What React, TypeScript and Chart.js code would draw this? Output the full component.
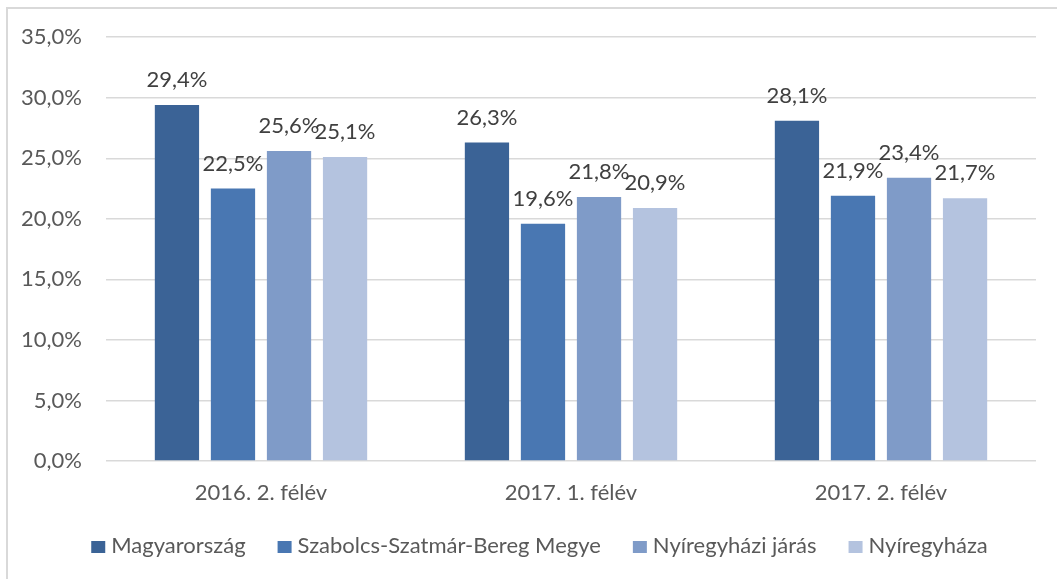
import React, { useEffect, useRef } from "react";
import { Chart, registerables } from "chart.js";

Chart.register(...registerables);

const categories = ["2016. 2. félév", "2017. 1. félév", "2017. 2. félév"];
const seriesNames = ["Magyarország", "Szabolcs-Szatmár-Bereg Megye", "Nyíregyházi járás", "Nyíregyháza"];
const magyarorszag = [29.4, 26.3, 28.1];
const szabolcs = [22.5, 19.6, 21.9];
const jaras = [25.6, 21.8, 23.4];
const nyiregyhaza = [25.1, 20.9, 21.7];
const seriesColors = ["#3B6396", "#4977B2", "#7F9BC8", "#B4C3DF"];
const yTicks = [0, 5, 10, 15, 20, 25, 30, 35];

const FONT = "Lato, 'Open Sans', sans-serif";
const FS = 22;

const fmt = (v: number) => v.toFixed(1).replace(".", ",") + "%";

const labelPlugin = {
  id: "barLabels",
  afterDatasetsDraw(chart: any) {
    const ctx = chart.ctx;
    ctx.save();
    ctx.font = `${FS}px ${FONT}`;
    ctx.fillStyle = "#404040";
    ctx.textAlign = "center";
    ctx.textBaseline = "alphabetic";
    chart.data.datasets.forEach((ds: any, i: number) => {
      const meta = chart.getDatasetMeta(i);
      meta.data.forEach((el: any, j: number) => {
        ctx.fillText(fmt(ds.data[j]), el.x, el.y - 18);
      });
    });
    ctx.restore();
  },
};

const legendPlugin = {
  id: "customLegend",
  afterDraw(chart: any) {
    const ctx = chart.ctx;
    ctx.save();
    ctx.font = `${FS}px ${FONT}`;
    ctx.textBaseline = "alphabetic";
    const boxW = 14;
    const boxH = 12;
    const gapBoxText = 6;
    const gapItems = 32;
    const items = chart.data.datasets.map((ds: any) => ({
      label: ds.label,
      color: ds.backgroundColor,
      w: boxW + gapBoxText + ctx.measureText(ds.label).width,
    }));
    const total = items.reduce((s: number, it: any) => s + it.w, 0) + gapItems * (items.length - 1);
    let x = (chart.width - total) / 2 + 11;
    const baseline = 553;
    items.forEach((it: any) => {
      ctx.fillStyle = it.color;
      ctx.fillRect(x, baseline - 12, boxW, boxH);
      ctx.fillStyle = "#595959";
      ctx.textAlign = "left";
      ctx.fillText(it.label, x + boxW + gapBoxText, baseline);
      x += it.w + gapItems;
    });
    ctx.restore();
  },
};

export default function App() {
  const ref = useRef<HTMLCanvasElement>(null);
  useEffect(() => {
    if (!ref.current) return;
    const seriesData = [magyarorszag, szabolcs, jaras, nyiregyhaza];
    const chart = new Chart(ref.current, {
      type: "bar",
      data: {
        labels: categories,
        datasets: seriesNames.map((name, i) => ({
          label: name,
          data: seriesData[i],
          backgroundColor: seriesColors[i],
          categoryPercentage: 0.723,
          barPercentage: 0.79,
        })),
      },
      options: {
        animation: false,
        responsive: false,
        maintainAspectRatio: false,
        layout: { padding: { top: 37, right: 21, bottom: 0, left: 0 } },
        plugins: { legend: { display: false }, tooltip: { enabled: false } },
        scales: {
          x: {
            grid: { display: false, drawTicks: false },
            border: { display: false },
            ticks: { color: "#595959", font: { family: FONT, size: FS }, padding: 19 },
            afterFit: (s: any) => { s.height = 118; },
          },
          y: {
            min: 0,
            max: 35,
            afterBuildTicks: (s: any) => { s.ticks = yTicks.map((v) => ({ value: v })); },
            grid: { color: "#D9D9D9", lineWidth: 1.5, drawTicks: false },
            border: { display: false },
            ticks: {
              color: "#595959",
              font: { family: FONT, size: FS },
              padding: 24,
              callback: (v: any) => fmt(Number(v)),
            },
            afterFit: (s: any) => { s.width = 106; },
          },
        },
      },
      plugins: [labelPlugin, legendPlugin],
    });
    return () => chart.destroy();
  }, []);

  return (
    <div style={{ position: "fixed", left: 0, top: 0, width: 1057, height: 579, overflow: "hidden", background: "#fff" }}>
      <div style={{ position: "absolute", left: 6, top: 7, width: 1100, height: 700, border: "2px solid #D9D9D9", boxSizing: "border-box" }} />
      <canvas ref={ref} width={1057} height={579} style={{ position: "absolute", left: 0, top: 0, width: 1057, height: 579 }} />
    </div>
  );
}
